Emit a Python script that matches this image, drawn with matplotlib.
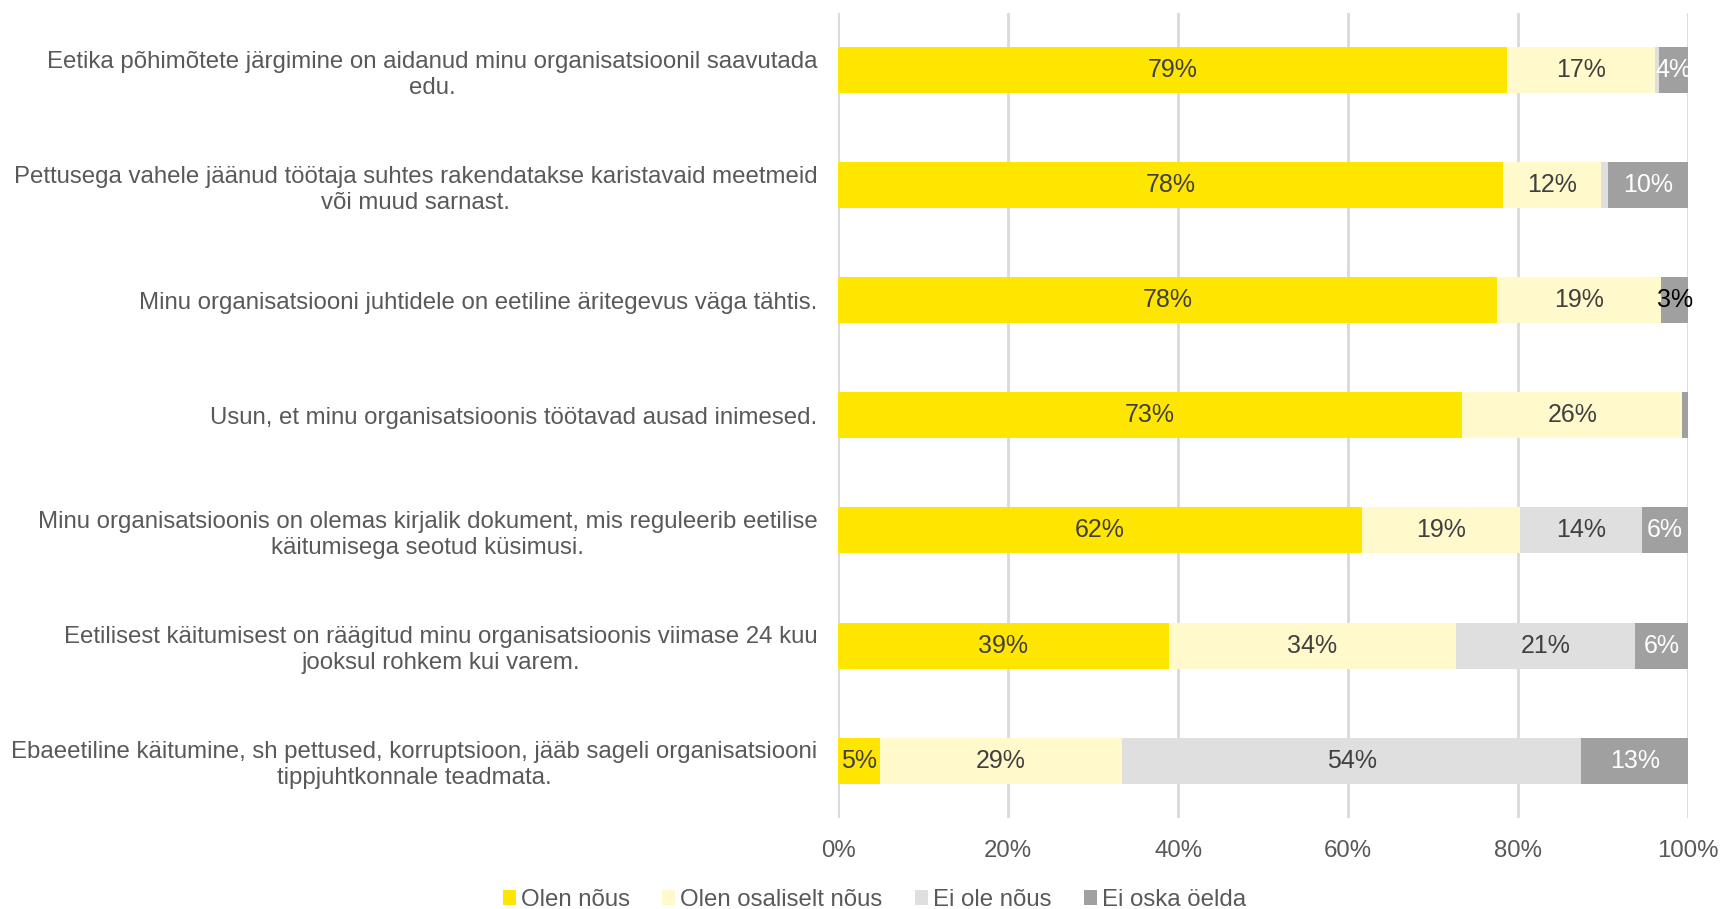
import matplotlib
matplotlib.use("Agg")
import matplotlib.pyplot as plt
import numpy as np

plt.rcParams['font.family'] = ['Liberation Sans', 'DejaVu Sans']

categories = [
    "Eetika põhimõtete järgimine on aidanud minu organisatsioonil saavutada\nedu.",
    "Pettusega vahele jäänud töötaja suhtes rakendatakse karistavaid meetmeid\nvõi muud sarnast.",
    "Minu organisatsiooni juhtidele on eetiline äritegevus väga tähtis.",
    "Usun, et minu organisatsioonis töötavad ausad inimesed.",
    "Minu organisatsioonis on olemas kirjalik dokument, mis reguleerib eetilise\nkäitumisega seotud küsimusi.",
    "Eetilisest käitumisest on räägitud minu organisatsioonis viimase 24 kuu\njooksul rohkem kui varem.",
    "Ebaeetiline käitumine, sh pettused, korruptsioon, jääb sageli organisatsiooni\ntippjuhtkonnale teadmata.",
]

series_names = ["Olen nõus", "Olen osaliselt nõus", "Ei ole nõus", "Ei oska öelda"]

olen_nous = [78.7, 78.2, 77.5, 73.4, 61.6, 38.9, 4.9]
osaliselt = [17.4, 11.5, 19.3, 25.9, 18.6, 33.8, 28.5]
ei_ole = [0.4, 0.8, 0.0, 0.0, 14.3, 21.0, 54.0]
ei_oska = [3.5, 9.5, 3.2, 0.7, 5.5, 6.3, 12.6]

lbl_olen = ["79%", "78%", "78%", "73%", "62%", "39%", "5%"]
lbl_osal = ["17%", "12%", "19%", "26%", "19%", "34%", "29%"]
lbl_eiole = ["", "", "", "", "14%", "21%", "54%"]
lbl_eioska = ["4%", "10%", "3%", "", "6%", "6%", "13%"]

tick_labels = ["0%", "20%", "40%", "60%", "80%", "100%"]

colors = ["#FFE600", "#FFF9CC", "#DFDFDF", "#A0A0A0"]
label_colors = [
    ["#404040"] * 7,
    ["#404040"] * 7,
    ["#404040"] * 7,
    ["#FFFFFF", "#FFFFFF", "#000000", "#FFFFFF", "#FFFFFF", "#FFFFFF", "#FFFFFF"],
]

FS = 17.3

fig = plt.figure(figsize=(17.21, 9.09), dpi=100)
ax = fig.add_axes([0.487, 0.10, 0.494, 0.886])

data = [olen_nous, osaliselt, ei_ole, ei_oska]
labels = [lbl_olen, lbl_osal, lbl_eiole, lbl_eioska]
y = np.arange(len(categories))
left = np.zeros(len(categories))
for i, (vals, name) in enumerate(zip(data, series_names)):
    vals = np.array(vals)
    bars = ax.barh(y, vals, left=left, height=0.4, color=colors[i], label=name, zorder=3)
    for j, b in enumerate(bars):
        if labels[i][j]:
            ax.text(left[j] + vals[j] / 2, y[j], labels[i][j], ha='center', va='center',
                    fontsize=18, color=label_colors[i][j], zorder=4)
    left = left + vals

ax.set_xlim(0, 100)
ax.set_ylim(len(categories) - 0.5, -0.5)
ax.set_xticks([0, 20, 40, 60, 80, 100])
ax.set_xticklabels(tick_labels, fontsize=FS, color="#595959")
ax.set_yticks(y)
ax.set_yticklabels(categories, fontsize=FS, color="#595959", linespacing=1.25)
ax.tick_params(axis='both', length=0)
ax.tick_params(axis='y', pad=15)
ax.tick_params(axis='x', pad=16)
for lab in ax.get_yticklabels():
    lab.set_horizontalalignment('right')
    lab.set_multialignment('center')
ax.grid(axis='x', color="#D9D9D9", linewidth=2, zorder=0)
for s in ax.spines.values():
    s.set_visible(False)

handles, hl = ax.get_legend_handles_labels()
fig.legend(handles, hl, loc='center', bbox_to_anchor=(0.508, 0.01), ncol=4, frameon=False,
           fontsize=FS, handlelength=0.55, handleheight=0.55, handletextpad=0.2,
           columnspacing=1.35, labelcolor="#595959")

fig.savefig("out.png", dpi=100)
